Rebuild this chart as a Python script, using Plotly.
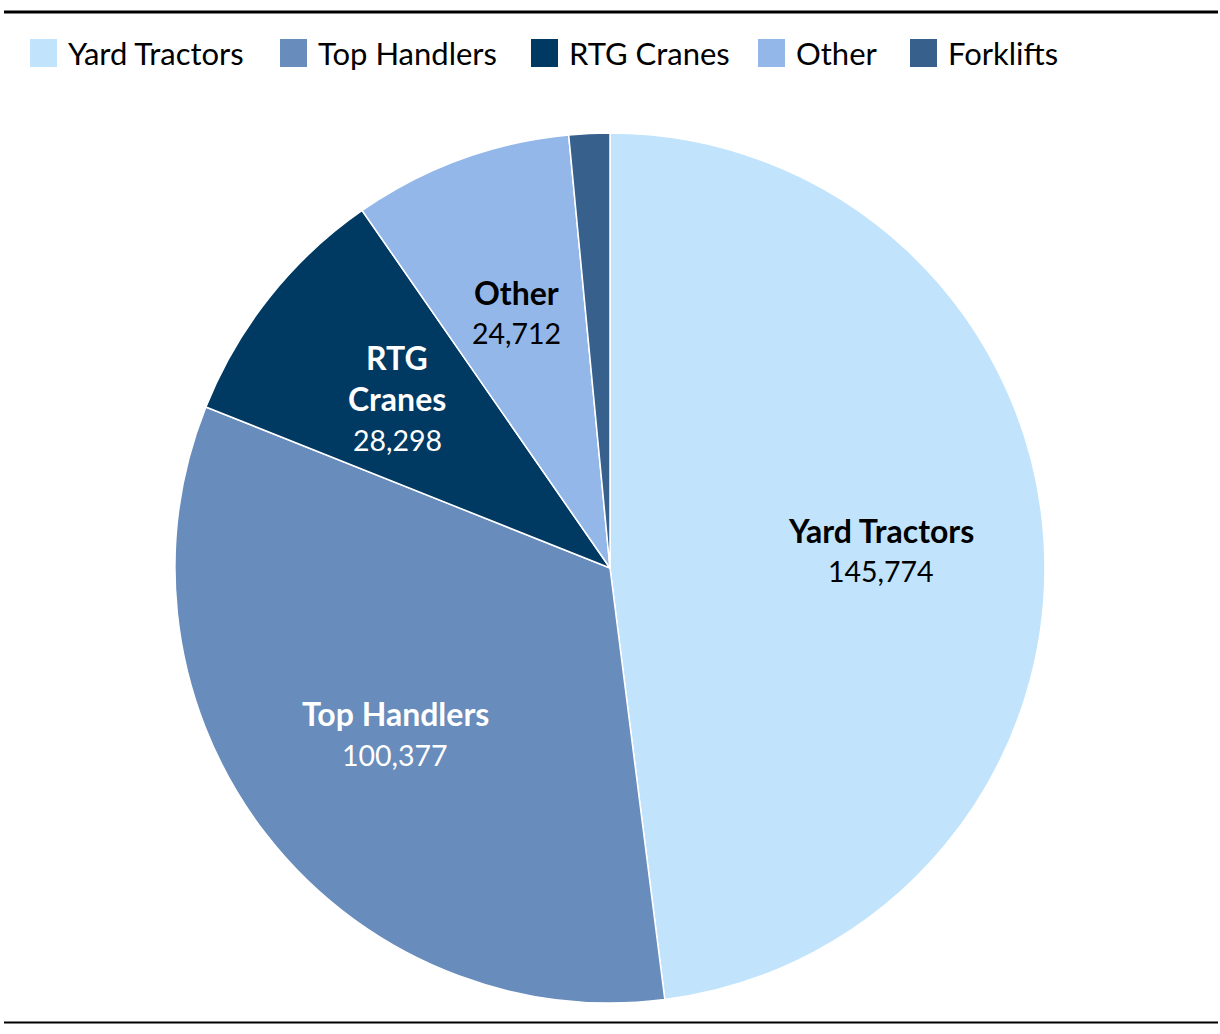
import math
import plotly.graph_objects as go

categories = ["Yard Tractors", "Top Handlers", "RTG Cranes", "Other", "Forklifts"]
label_lines = [["Yard Tractors"], ["Top Handlers"], ["RTG", "Cranes"], ["Other"], []]
values = [145774, 100377, 28298, 24712, 4600]
colors = ["#c1e4fc", "#688cbb", "#003a63", "#93b7e8", "#37608d"]
text_colors = ["#000000", "#ffffff", "#ffffff", "#000000", "#ffffff"]

W, H = 1220, 1034
dom_y = [0.030, 0.8714]
FONT = "Lato"

fig = go.Figure(go.Pie(
    labels=categories,
    values=values,
    textinfo="none",
    marker=dict(colors=colors, line=dict(color="#ffffff", width=1.5)),
    sort=False,
    direction="clockwise",
    rotation=0,
    domain=dict(x=[0, 1], y=dom_y),
    hoverinfo="label+value+percent",
    showlegend=False,
))

# slice labels placed at the mid-angle of each slice
cx, cy = 0.5, (dom_y[0] + dom_y[1]) / 2
R_px = (dom_y[1] - dom_y[0]) * H / 2
r_lab = 0.625 * R_px
total = sum(values)
annotations = []
cum = 0.0
line_gap = 41
for lines, v, tc in zip(label_lines, values, text_colors):
    mid = (cum + v / 2) / total * 2 * math.pi
    cum += v
    if not lines:
        continue
    px = r_lab * math.sin(mid)
    py = r_lab * math.cos(mid)
    x = cx + px / W
    y = cy + py / H
    all_lines = [(f"<b>{t}</b>", 32) for t in lines] + [(f"{v:,}", 28.5)]
    n = len(all_lines)
    for i, (txt, sz) in enumerate(all_lines):
        off = ((n - 1) / 2 - i) * line_gap
        annotations.append(dict(
            x=x, y=y, xref="paper", yref="paper", text=txt, showarrow=False,
            xanchor="center", yanchor="middle", yshift=off,
            font=dict(family=FONT, size=sz, color=tc),
        ))

# legend drawn manually with large swatches
legend_x = [30, 280, 531, 758, 910]
shapes = [
    dict(type="line", xref="paper", yref="paper", x0=4/W, x1=1218/W,
         y0=1-12/H, y1=1-12/H, line=dict(color="black", width=3)),
    dict(type="line", xref="paper", yref="paper", x0=4/W, x1=1218/W,
         y0=1-1022.5/H, y1=1-1022.5/H, line=dict(color="black", width=2)),
]
for lx, name, col in zip(legend_x, categories, colors):
    shapes.append(dict(type="rect", xref="paper", yref="paper",
                       x0=lx/W, x1=(lx+27)/W, y0=1-67/H, y1=1-39/H,
                       fillcolor=col, line=dict(width=0)))
    annotations.append(dict(x=(lx+36)/W, y=1-53/H, xref="paper", yref="paper",
                            text=name, showarrow=False, xanchor="left", yanchor="middle",
                            font=dict(family=FONT, size=31, color="#000000")))

fig.update_layout(
    width=W, height=H,
    margin=dict(l=0, r=0, t=0, b=0),
    paper_bgcolor="white",
    plot_bgcolor="white",
    font=dict(family=FONT, size=28, color="#000000"),
    shapes=shapes,
    annotations=annotations,
)

fig.write_html("out.html")
